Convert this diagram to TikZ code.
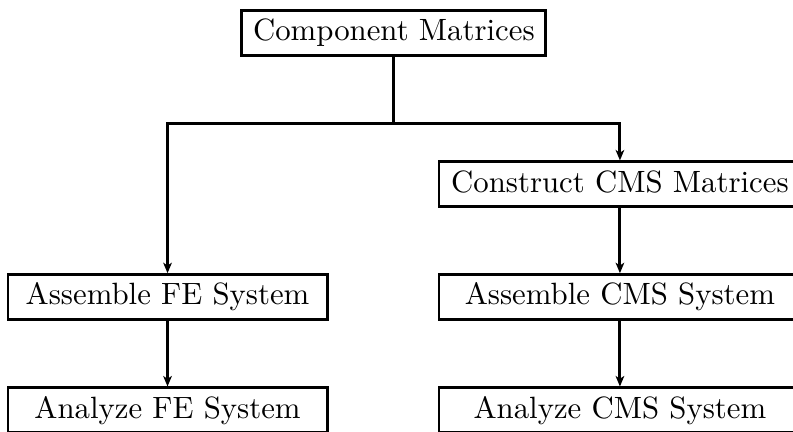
\documentclass[tikz,border=0pt]{standalone}
\usetikzlibrary{arrows.meta}

\begin{document}
\begin{tikzpicture}[line width=.95pt,box/.style={draw,inner xsep=3.6pt,inner ysep=2.9pt,text height=6.9pt,text depth=1.9pt},
  lcol/.style={box,minimum width=103.6pt},rcol/.style={box,minimum width=117.5pt},arr/.style={-{Stealth[length=3.4pt,width=2.8pt,inset=.9pt]}}]
\useasboundingbox(0,0)rectangle(9.05,4.93);
\node[box](comp)at(4.495,4.551){Component Matrices};\coordinate(split)at(4.495,3.525);
\node[rcol](cmsmat)at(7.075,2.826){Construct CMS Matrices};
\node[lcol](feasm)at(1.912,1.539){Assemble FE System};\node[rcol](cmsasm)at(7.075,1.539){Assemble CMS System};
\node[lcol](feana)at(1.912,.246){Analyze FE System};\node[rcol](cmsana)at(7.075,.246){Analyze CMS System};
\draw(comp)--(split);\draw[arr](split)-|(feasm);\draw[arr](split)-|(cmsmat);
\draw[arr](feasm)--(feana);\draw[arr](cmsmat)--(cmsasm);\draw[arr](cmsasm)--(cmsana);
\end{tikzpicture}
\end{document}
